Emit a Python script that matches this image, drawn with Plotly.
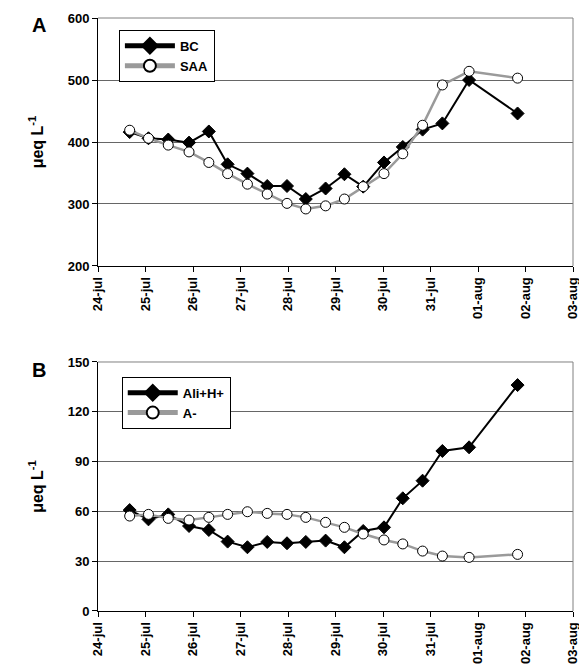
import plotly.graph_objects as go

times = ["2007-07-24 16:00", "2007-07-25 01:30", "2007-07-25 11:30", "2007-07-25 22:00",
         "2007-07-26 08:00", "2007-07-26 17:30", "2007-07-27 03:30", "2007-07-27 13:30",
         "2007-07-27 23:30", "2007-07-28 09:00", "2007-07-28 19:00", "2007-07-29 04:30",
         "2007-07-29 14:00", "2007-07-30 00:30", "2007-07-30 10:00", "2007-07-30 20:00",
         "2007-07-31 06:00", "2007-07-31 19:30", "2007-08-01 20:00"]

bc = [416, 406, 404, 399, 417, 364, 349, 329, 329, 308, 325, 348, 328, 367, 392, 420, 430, 500, 446]
saa = [419, 406, 395, 384, 367, 349, 332, 316, 301, 292, 297, 308, 328, 349, 381, 427, 492, 514, 503]

ali_h = [60.8, 55.2, 58.2, 51.2, 48.8, 41.8, 38.4, 41.6, 40.8, 41.6, 42.4, 38.4, 48.2, 50.4, 67.9, 78.5, 96.4, 98.6, 136.1]
a_minus = [57.2, 58.2, 55.8, 54.8, 56.4, 58.2, 59.8, 58.8, 58.2, 56.4, 53.4, 50.4, 46.4, 42.8, 40.4, 36.1, 33.1, 32.3, 34.1]

tick_dates = ["2007-07-24", "2007-07-25", "2007-07-26", "2007-07-27", "2007-07-28", "2007-07-29",
              "2007-07-30", "2007-07-31", "2007-08-01", "2007-08-02", "2007-08-03"]
tick_labels = ["24-jul", "25-jul", "26-jul", "27-jul", "28-jul", "29-jul",
               "30-jul", "31-jul", "01-aug", "02-aug", "03-aug"]

ya_ticks = [200, 300, 400, 500, 600]
yb_ticks = [0, 30, 60, 90, 120, 150]

FONT = "Liberation Sans"

fig = go.Figure()

black_line = dict(color="black", width=2)
gray_line = dict(color="#9a9a9a", width=2.5)
diamond = dict(symbol="diamond", size=10, color="black", line=dict(color="black", width=1))
circle = dict(symbol="circle", size=10, color="white", line=dict(color="black", width=1))

fig.add_trace(go.Scatter(x=times, y=bc, name="<b>BC</b>", mode="lines+markers", line=black_line,
                         marker=diamond, xaxis="x", yaxis="y", legend="legend"))
fig.add_trace(go.Scatter(x=times, y=saa, name="<b>SAA</b>", mode="lines+markers", line=gray_line,
                         marker=circle, xaxis="x", yaxis="y", legend="legend"))
fig.add_trace(go.Scatter(x=times, y=ali_h, name="<b>Ali+H+</b>", mode="lines+markers", line=black_line,
                         marker=diamond, xaxis="x2", yaxis="y2", legend="legend2"))
fig.add_trace(go.Scatter(x=times, y=a_minus, name="<b>A-</b>", mode="lines+markers", line=gray_line,
                         marker=circle, xaxis="x2", yaxis="y2", legend="legend2"))

xcommon = dict(
    range=["2007-07-24", "2007-08-03"], tickvals=tick_dates,
    ticktext=["<b>%s</b>" % t for t in tick_labels],
    tickangle=-90, ticks="outside", ticklen=5, tickcolor="black",
    showline=True, linecolor="black", linewidth=1, mirror=False,
    showgrid=False, zeroline=False, automargin=False,
    tickfont=dict(family=FONT, size=13, color="black", weight="bold"),
)


def ycommon(ticks):
    return dict(
        tickvals=ticks, ticktext=["<b>%d</b>" % t for t in ticks],
        ticks="outside", ticklen=5, tickcolor="black",
        showline=True, linecolor="black", linewidth=1,
        showgrid=True, gridcolor="#666666", gridwidth=1, zeroline=False, automargin=False,
        tickfont=dict(family=FONT, size=13, color="black", weight="bold"),
        title=dict(text="<b>μeq L<sup>-1</sup></b>",
                   font=dict(family=FONT, size=16, color="black", weight="bold"),
                   standoff=20),
    )


legend_common = dict(
    bgcolor="white", bordercolor="black", borderwidth=1,
    font=dict(family=FONT, size=13, color="black", weight="bold"),
    xanchor="left", yanchor="top", tracegroupgap=0, itemwidth=50, itemsizing="constant",
)

fig.update_layout(
    width=579, height=662,
    margin=dict(l=90, r=14, t=10, b=59, autoexpand=False),
    paper_bgcolor="white", plot_bgcolor="white",
    showlegend=True,
    xaxis=dict(domain=[0, 1], anchor="y", **xcommon),
    yaxis=dict(domain=[0.5818, 1.0], anchor="x", range=[200, 600], **ycommon(ya_ticks)),
    xaxis2=dict(domain=[0, 1], anchor="y2", **xcommon),
    yaxis2=dict(domain=[0, 0.4199], anchor="x2", range=[0, 150], **ycommon(yb_ticks)),
    legend=dict(x=0.044, y=0.98, **legend_common),
    legend2=dict(x=0.05, y=0.395, **legend_common),
    annotations=[
        dict(text="<b>A</b>", xref="paper", yref="paper", x=-0.105, y=0.988, xanchor="right", yanchor="middle",
             showarrow=False, font=dict(family=FONT, size=20, color="black", weight="bold")),
        dict(text="<b>B</b>", xref="paper", yref="paper", x=-0.105, y=0.406, xanchor="right", yanchor="middle",
             showarrow=False, font=dict(family=FONT, size=20, color="black", weight="bold")),
    ],
    shapes=[
        dict(type="line", xref="x domain", yref="y domain", x0=0, x1=1, y0=1, y1=1,
             line=dict(color="#808080", width=1)),
        dict(type="line", xref="x domain", yref="y domain", x0=1, x1=1, y0=0, y1=1,
             line=dict(color="#808080", width=1)),
        dict(type="line", xref="x2 domain", yref="y2 domain", x0=0, x1=1, y0=1, y1=1,
             line=dict(color="#808080", width=1)),
        dict(type="line", xref="x2 domain", yref="y2 domain", x0=1, x1=1, y0=0, y1=1,
             line=dict(color="#808080", width=1)),
    ],
)

fig.write_html("out.html")
